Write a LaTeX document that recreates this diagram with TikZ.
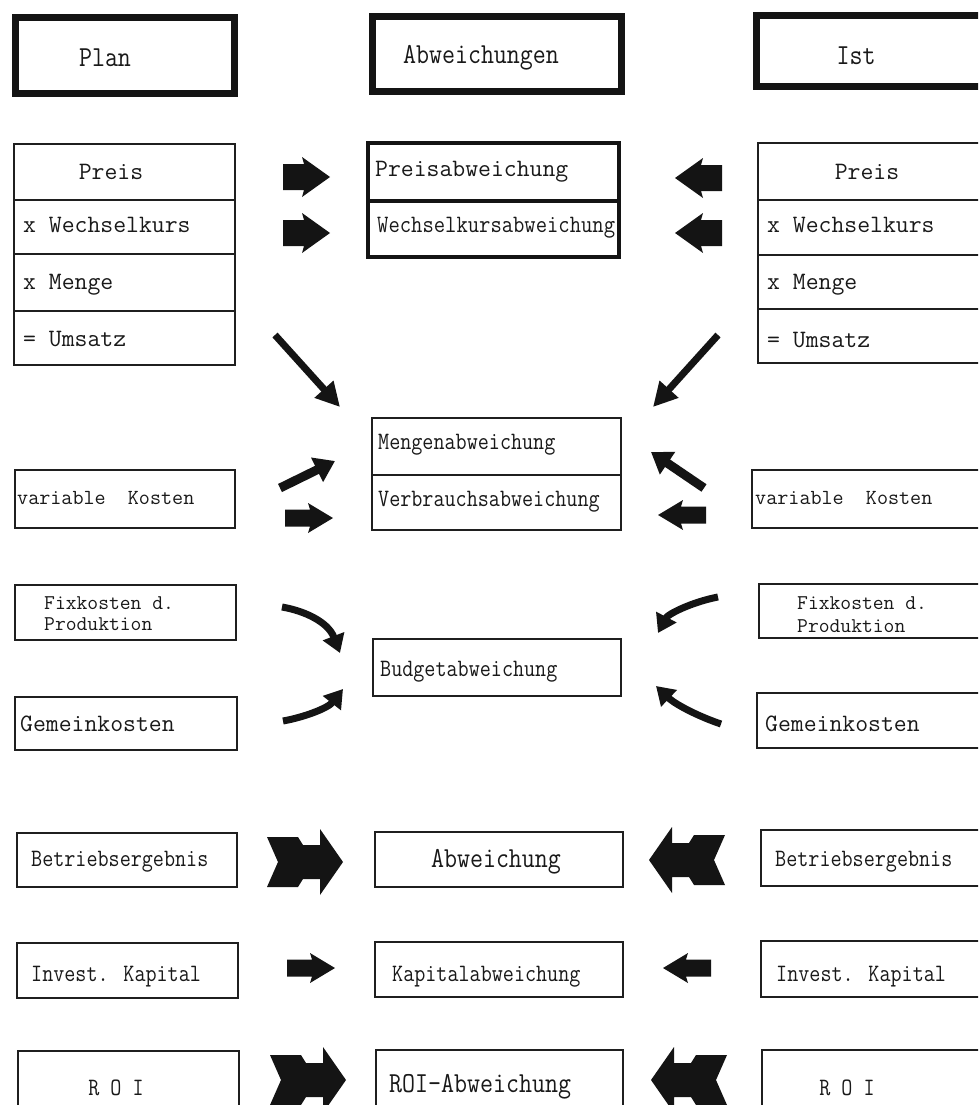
\documentclass[tikz,border=0pt]{standalone}
\usepackage{fontspec}
\usepackage{graphicx}
\usetikzlibrary{arrows.meta}
\newcommand{\cx}[1]{\scalebox{0.86}[1]{#1}}
\newcommand{\hx}[1]{\scalebox{0.87}[1]{#1}}
\tikzset{
  arrfill/.style={fill=black!92},
  pics/medarr/.style={code={\fill[arrfill] (0,-13)--(21,-13)--(19,-20)--(47,0)--(19,20)--(21,13)--(0,13)--cycle;}},
  pics/smallarr/.style={code={\fill[arrfill] (0,-8.5)--(25,-8.5)--(23,-15)--(48,0)--(23,15)--(25,8.5)--(0,8.5)--cycle;}},
  pics/bigarr/.style={code={\fill[arrfill] (0,-25)--(31,-25)--(36,-17)--(53,-17)--(53,-33)--(76,0)--(53,33)--(53,17)--(36,17)--(31,25)--(0,25)--(11,0)--cycle;}},
}
\begin{document}
\begin{tikzpicture}[x=1pt,y=-1pt,
  boxline/.style={draw=black!88, line width=1.8pt},
  thickbox/.style={draw=black!92, line width=3.5pt},
  headbox/.style={draw=black!92, line width=7pt},
  reg/.style={inner sep=0pt, text=black!90, font=\ttfamily\fontsize{25}{27}\selectfont},
  regs/.style={inner sep=0pt, text=black!90, font=\ttfamily\fontsize{21.5}{23}\selectfont},
  cnd/.style={inner sep=0pt, text=black!90, font=\ttfamily\fontsize{25}{27}\selectfont},
  hd/.style={inner sep=0pt, text=black!90, font=\ttfamily\fontsize{29}{31}\selectfont},
  diag/.style={draw=black!92, line width=7pt, -{Triangle[length=24pt,width=24pt]}},
  bent/.style={draw=black!92, line width=7pt, -{Triangle[length=18pt,width=22pt]}},
]
\clip (0,0) rectangle (978,1105);
\fill[white] (0,0) rectangle (978,1105);

% header boxes
\draw[headbox] (15.5,17.5) rectangle (234.5,93.5);
\draw[headbox] (372.5,16.5) rectangle (621.5,91.5);
\draw[headbox] (756.5,15.5) rectangle (995,86.5);
\node[hd] (tPlan) at (105,58) {\hx{Plan}};
\node[hd] (tAbw) at (481,58) {\hx{Abweichungen}};
\node[hd] (tIst) at (856,56) {\hx{Ist}};

% left stacked box
\draw[boxline] (14,144) rectangle (235,365);
\draw[boxline] (14,200) -- (235,200) (14,254) -- (235,254) (14,311) -- (235,311);
\node[reg] (lP) at (111,172) {Preis};
\node[reg, anchor=mid west] (lW) at (23,230) {x Wechselkurs};
\node[reg, anchor=mid west] (lM) at (23,287) {x Menge};
\node[reg, anchor=mid west] (lU) at (23,344) {= Umsatz};

% right stacked box
\draw[boxline] (758,143) rectangle (995,363);
\draw[boxline] (758,200) -- (995,200) (758,255) -- (995,255) (758,309) -- (995,309);
\node[reg] (rP) at (867,172) {Preis};
\node[reg, anchor=mid west] (rW) at (767,230) {x Wechselkurs};
\node[reg, anchor=mid west] (rM) at (767,287) {x Menge};
\node[reg, anchor=mid west] (rU) at (767,345) {= Umsatz};

% Preis / Wechselkurs deviation box
\draw[thickbox] (368,143) rectangle (619,257);
\draw[thickbox] (368,201) -- (619,201);
\node[reg, anchor=mid west] (mP) at (375,174) {Preisabweichung};
\node[cnd, anchor=mid west] (mW) at (377,230) {\scalebox{0.88}[1]{Wechselkursabweichung}};

% Mengen / Verbrauch box
\draw[boxline] (372,418) rectangle (621,530);
\draw[boxline] (372,475) -- (621,475);
\node[cnd, anchor=mid west] (mMe) at (378,447) {\cx{Mengenabweichung}};
\node[cnd, anchor=mid west] (mV) at (378,504) {\cx{Verbrauchsabweichung}};

% Budget box
\draw[boxline] (373,639) rectangle (621,696);
\node[cnd, anchor=mid west] (mB) at (380,674) {\cx{Budgetabweichung}};

% variable Kosten
\draw[boxline] (15,470) rectangle (235,528);
\node[regs, anchor=mid west] (lV) at (17,502) {variable\ \ Kosten};
\draw[boxline] (752,470) rectangle (995,528);
\node[regs, anchor=mid west] (rV) at (755,502) {variable\ \ Kosten};

% Fixkosten
\draw[boxline] (15,585) rectangle (236,640);
\node[regs, anchor=north west, align=left, font=\ttfamily\fontsize{21}{21}\selectfont] (lF) at (44,596) {Fixkosten d.\\Produktion};
\draw[boxline] (759,584) rectangle (995,638);
\node[regs, anchor=north west, align=left, font=\ttfamily\fontsize{21}{23}\selectfont] (rF) at (797,596) {Fixkosten d.\\Produktion};

% Gemeinkosten
\draw[boxline] (15,697) rectangle (237,750);
\node[reg, anchor=mid west] (lG) at (20,729) {Gemeinkosten};
\draw[boxline] (757,693) rectangle (995,748);
\node[reg, anchor=mid west] (rG) at (765,729) {Gemeinkosten};

% Betriebsergebnis row
\draw[boxline] (17,833) rectangle (237,887);
\node[cnd, anchor=mid west] (lBe) at (31,864) {\cx{Betriebsergebnis}};
\draw[boxline] (375,832) rectangle (623,887);
\node[hd] (mA) at (496,862) {\hx{Abweichung}};
\draw[boxline] (761,830) rectangle (995,886);
\node[cnd, anchor=mid west] (rBe) at (775,864) {\cx{Betriebsergebnis}};

% Kapital row
\draw[boxline] (17,943) rectangle (238,998);
\node[cnd, anchor=mid west] (lI) at (31,979) {\cx{Invest. Kapital}};
\draw[boxline] (375,942) rectangle (623,997);
\node[cnd, anchor=mid west] (mK) at (392,979) {\cx{Kapitalabweichung}};
\draw[boxline] (761,941) rectangle (995,997);
\node[cnd, anchor=mid west] (rI) at (776,979) {\cx{Invest. Kapital}};

% ROI row
\draw[boxline] (18,1051) rectangle (239,1120);
\node[cnd] (lR) at (116,1088) {\cx{R O I}};
\draw[boxline] (376,1050) rectangle (623,1120);
\node[hd, anchor=mid west] (mR) at (389,1090) {\hx{ROI-Abweichung}};
\draw[boxline] (762,1050) rectangle (995,1120);
\node[cnd] (rR) at (847,1088) {\cx{R O I}};

% block arrows row 1/2
\coordinate (a1) at (283,177);
\coordinate (a2) at (283,233);
\coordinate (a3) at (722,178);
\coordinate (a4) at (722,233);
\pic at (a1) {medarr};
\pic at (a2) {medarr};
\pic[xscale=-1] at (a3) {medarr};
\pic[xscale=-1] at (a4) {medarr};

% diagonal arrows from Umsatz
\coordinate (d1s) at (275,335);
\coordinate (d1e) at (340,407);
\coordinate (d2s) at (718,335);
\coordinate (d2e) at (653,407);
\draw[diag] (d1s) -- (d1e);
\draw[diag] (d2s) -- (d2e);

% arrows near Mengen box
\coordinate (e1s) at (280,488);
\coordinate (e1e) at (335,461);
\coordinate (e2s) at (704,488);
\coordinate (e2e) at (651,452);
\draw[diag, line width=9pt, -{Triangle[length=20pt,width=26pt]}] (e1s) -- (e1e);
\draw[diag, line width=9pt, -{Triangle[length=20pt,width=26pt]}] (e2s) -- (e2e);
\coordinate (e3) at (285,518);
\coordinate (e4) at (706,515);
\pic at (e3) {smallarr};
\pic[xscale=-1] at (e4) {smallarr};

% bent arrows near Budget box
\coordinate (b1s) at (282,607);
\coordinate (b1e) at (340,653);
\coordinate (b2s) at (283,721);
\coordinate (b2e) at (343,689);
\coordinate (b3s) at (718,597);
\coordinate (b3e) at (658,633);
\coordinate (b4s) at (721,724);
\coordinate (b4e) at (656,686);
\draw[bent] (b1s) .. controls (305,611) and (328,622) .. (b1e);
\draw[bent] (b2s) .. controls (305,717) and (328,708) .. (b2e);
\draw[bent] (b3s) .. controls (692,602) and (668,614) .. (b3e);
\draw[bent] (b4s) .. controls (700,717) and (676,705) .. (b4e);

% big arrows
\coordinate (g1) at (267,862);
\coordinate (g2) at (725,860);
\coordinate (g3) at (270,1080);
\coordinate (g4) at (727,1080);
\pic at (g1) {bigarr};
\pic[xscale=-1] at (g2) {bigarr};
\pic at (g3) {bigarr};
\pic[xscale=-1] at (g4) {bigarr};

% Kapital arrows
\coordinate (k1) at (287,968);
\coordinate (k2) at (711,968);
\pic at (k1) {smallarr};
\pic[xscale=-1] at (k2) {smallarr};
\end{tikzpicture}
\end{document}
